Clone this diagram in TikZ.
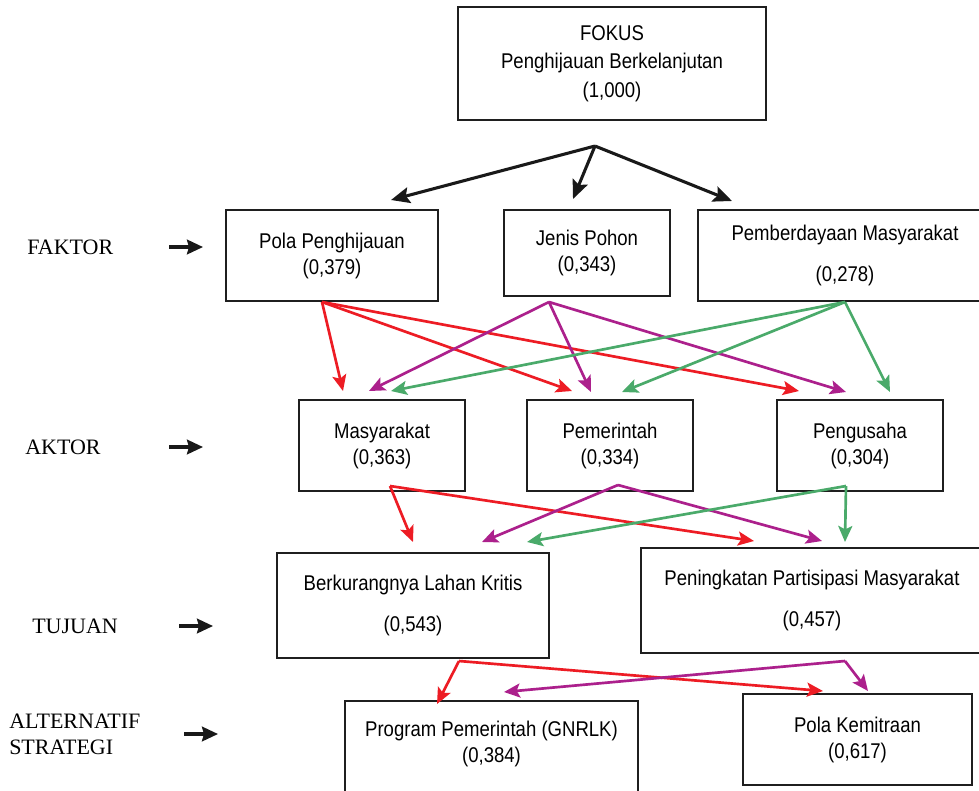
\documentclass[tikz,border=0pt]{standalone}
\usepackage{fontspec}
\usetikzlibrary{arrows.meta,calc}
\newfontfamily\boxfont[FakeStretch=0.87]{Liberation Sans}
\newfontfamily\lvlfont{Liberation Serif}
\definecolor{arrred}{RGB}{237,28,36}
\definecolor{arrpurple}{RGB}{172,32,140}
\definecolor{arrgreen}{RGB}{74,170,106}
\tikzset{
  kotak/.style={draw=black!88, line width=1.5pt, inner sep=0pt, align=center,
    font=\boxfont\fontsize{16}{19.5}\selectfont},
  kotaktext/.style={inner sep=0pt, align=center, font=\boxfont\fontsize{16}{19.5}\selectfont},
  level/.style={inner sep=0pt, anchor=west, align=left, font=\lvlfont\fontsize{16.5}{19.5}\selectfont},
  lvlarrow/.style={black!90, line width=2.3pt, -{Stealth[length=12pt,width=11pt,inset=1.5pt]}},
  toparrow/.style={black!90, line width=2.3pt, -{Stealth[length=14pt,width=12pt,inset=2.5pt]}},
  redarr/.style={arrred, line width=2pt, -{Stealth[length=12pt,width=10.5pt,inset=2.5pt]}},
  purplearr/.style={arrpurple, line width=2pt, -{Stealth[length=12pt,width=10.5pt,inset=2.5pt]}},
  greenarr/.style={arrgreen, line width=2pt, -{Stealth[length=12pt,width=10.5pt,inset=2.5pt]}}
}
\begin{document}
\begin{tikzpicture}[x=0.75pt,y=-0.75pt]
    \useasboundingbox (0,0) rectangle (979,790);
    \fill[white] (0,0) rectangle (979,790);
    \clip (0,0) rectangle (979,790);

    % Dessine les niveaux
    \node[level] (faktor) at (27,247) {FAKTOR};
    \node[level] (aktor) at (25,447) {AKTOR};
    \node[level] (tujuan) at (32,626) {TUJUAN};
    \node[level] (alter) at (9,734) {ALTERNATIF\\STRATEGI};
    \draw[lvlarrow] (faktor.east -| 169,0) -- (faktor.east -| 203,0);
    \draw[lvlarrow] (aktor.east -| 169,0) -- (aktor.east -| 203,0);
    \draw[lvlarrow] (tujuan.east -| 179,0) -- (tujuan.east -| 213,0);
    \draw[lvlarrow] (alter.east -| 184,0) -- (alter.east -| 218,0);

    % Dessine les boites
    \node[kotak, minimum width=231pt, minimum height=84.75pt] (fokus) at (612,63.5)
        {FOKUS\\[2pt]Penghijauan Berkelanjutan\\[2pt](1,000)};
    \node[kotak, minimum width=159pt, minimum height=68.25pt] (pola) at (332,255.5)
        {Pola Penghijauan\\(0,379)};
    \node[kotak, minimum width=124.5pt, minimum height=64.5pt] (jenis) at (587,253)
        {Jenis Pohon\\(0,343)};
    \node[kotak, minimum width=220.5pt, minimum height=68.25pt] (pember) at (845,255.5)
        {Pemberdayaan Masyarakat\\[11pt](0,278)};
    \node[kotak, minimum width=124.5pt, minimum height=68.25pt] (masy) at (382,445.5)
        {Masyarakat\\(0,363)};
    \node[kotak, minimum width=124.5pt, minimum height=68.25pt] (pemer) at (610,445.5)
        {Pemerintah\\(0,334)};
    \node[kotak, minimum width=124.5pt, minimum height=68.25pt] (pengu) at (860,445.5)
        {Pengusaha\\(0,304)};
    \node[kotak, minimum width=204pt, minimum height=78.75pt] (berk) at (413,605.5)
        {Berkurangnya Lahan Kritis\\[11pt](0,543)};
    \node[kotak, minimum width=256.5pt, minimum height=78.75pt] (penin) at (812,600.5)
        {Peningkatan Partisipasi Masyarakat\\[11pt](0,457)};
    \node[kotak, minimum width=219.75pt, minimum height=90pt, anchor=north] (program) at (491.5,700) {};
    \node[kotaktext] (programtxt) at (491.5,744) {Program Pemerintah (GNRLK)\\(0,384)};
    \node[kotak, minimum width=171.75pt, minimum height=68.25pt] (kemit) at (857.5,739.5)
        {Pola Kemitraan\\(0,617)};

    % Dessine les flèches noires
    \coordinate (split) at ($(fokus.south)+(-17,25)$);
    \draw[toparrow] (split) -- ($(pola.north)+(59,-9)$);
    \draw[toparrow] (split) -- ($(jenis.north)+(-14,-10)$);
    \draw[toparrow] (split) -- ($(pember.north)+(-113,-8)$);

    % Dessine les flèches de FAKTOR vers AKTOR
    \coordinate (polaO) at ($(pola.south)+(-10,0)$);
    \coordinate (jenisO) at ($(jenis.south)+(-38,5)$);
    \coordinate (pemberO) at (pember.south);
    \draw[redarr] (polaO) -- ($(masy.north)+(-39,-8)$);
    \draw[redarr] (polaO) -- ($(pemer.north)+(-38,-8)$);
    \draw[redarr] (polaO) -- ($(pengu.north)+(-61,-8)$);
    \draw[purplearr] (jenisO) -- ($(masy.north)+(-13,-8)$);
    \draw[purplearr] (jenisO) -- ($(pemer.north)+(-19,-7)$);
    \draw[purplearr] (jenisO) -- ($(pengu.north)+(-14,-7)$);
    \draw[greenarr] (pemberO) -- ($(masy.north)+(9,-8)$);
    \draw[greenarr] (pemberO) -- ($(pemer.north)+(12,-7)$);
    \draw[greenarr] (pemberO) -- ($(pengu.north)+(30,-7)$);

    % Dessine les flèches de AKTOR vers TUJUAN
    \coordinate (masyO) at ($(masy.south)+(8,-6)$);
    \coordinate (pemerO) at ($(pemer.south)+(8,-7)$);
    \coordinate (penguO) at ($(pengu.south)+(-14,-6)$);
    \draw[redarr] (masyO) -- ($(berk.north)+(0,-10)$);
    \draw[redarr] (masyO) -- ($(penin.north)+(-58,-6)$);
    \draw[purplearr] (pemerO) -- ($(berk.north)+(69,-10)$);
    \draw[purplearr] (pemerO) -- ($(penin.north)+(10,-6)$);
    \draw[greenarr] (penguO) -- ($(berk.north)+(114,-10)$);
    \draw[greenarr] (penguO) -- ($(penin.north)+(33,-5)$);

    % Dessine les flèches de TUJUAN vers ALTERNATIF
    \coordinate (berkO) at ($(berk.south)+(46,2)$);
    \coordinate (peninO) at ($(penin.south)+(33,7)$);
    \draw[redarr] (berkO) -- ($(program.north)+(-54.5,4)$);
    \draw[redarr] (berkO) -- ($(kemit.north)+(-34.5,-2)$);
    \draw[purplearr] (peninO) -- ($(program.north)+(12.5,-8)$);
    \draw[purplearr] (peninO) -- ($(kemit.north)+(10.5,-2)$);
\end{tikzpicture}
\end{document}
